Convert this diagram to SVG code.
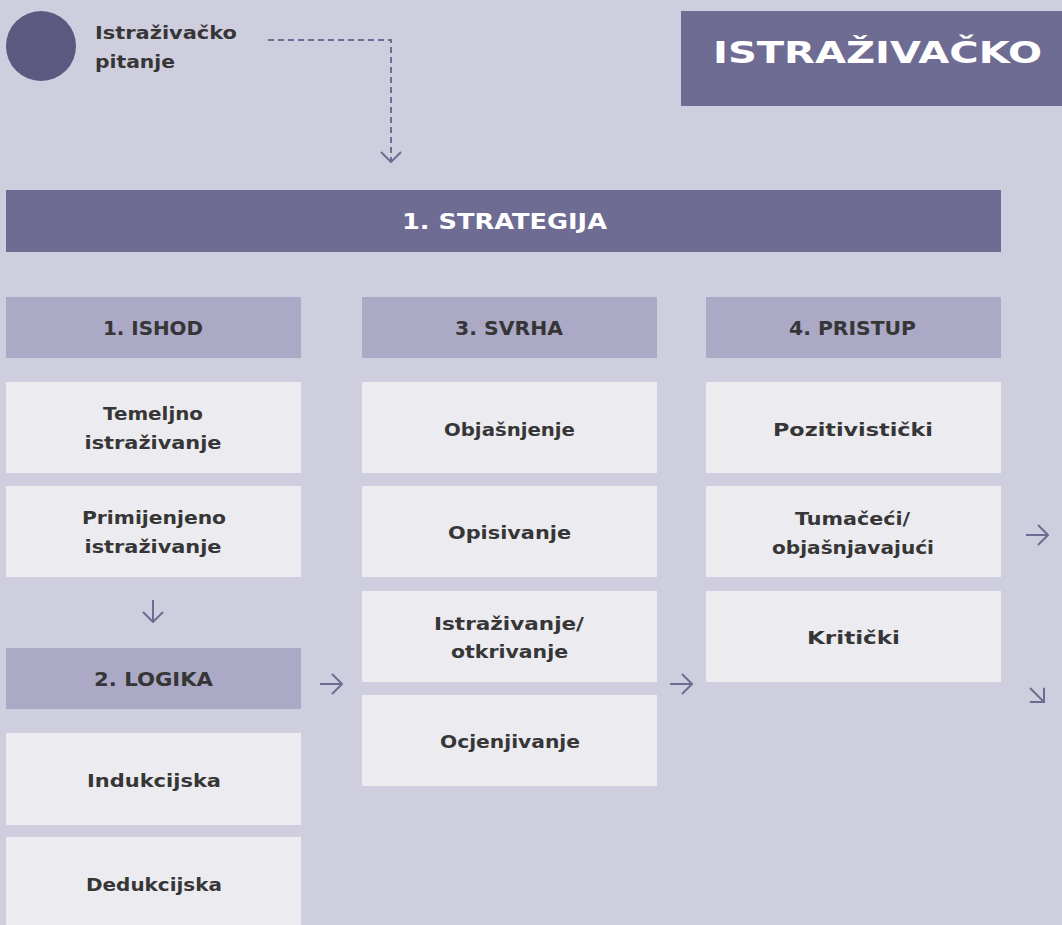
<svg xmlns="http://www.w3.org/2000/svg" width="1062" height="925" viewBox="0 0 1062 925">
<style>
.bg{fill:#cfcedf}
.dark{fill:#6f6c93}
.hdr{fill:#aba9c6}
.box{fill:#ebebf0}
text{font-family:"DejaVu Sans","Liberation Sans",sans-serif;font-weight:bold;text-anchor:middle}
.t{font-size:18px;fill:#363636}
.h{font-size:19px;fill:#363636}
.w{fill:#ffffff}
.conn{fill:none;stroke:#6f6c93;stroke-width:2}
</style>
<defs>
<marker id="chev" viewBox="0 0 12 22" refX="11" refY="11" markerWidth="12" markerHeight="22" markerUnits="userSpaceOnUse" orient="auto">
<path d="M1,1 L11,11 L1,21" fill="none" stroke="#6f6c93" stroke-width="2"/>
</marker>
</defs>
<rect class="bg" x="0" y="0" width="1062" height="925"/>

<g id="question">
<circle cx="41" cy="46" r="35" fill="#5c5880"/>
<text class="t" x="95" y="39" style="text-anchor:start" textLength="142" lengthAdjust="spacingAndGlyphs">Istraživačko</text>
<text class="t" x="95" y="68" style="text-anchor:start" textLength="80" lengthAdjust="spacingAndGlyphs">pitanje</text>
</g>

<g id="title">
<rect class="dark" x="681" y="11" width="381" height="95"/>
<text class="w" x="877.5" y="63" font-size="30" textLength="329" lengthAdjust="spacingAndGlyphs">ISTRAŽIVAČKO</text>
</g>

<g id="strategija">
<rect class="dark" x="6" y="190" width="995" height="62"/>
<text class="w" x="504.5" y="229" font-size="21" textLength="205" lengthAdjust="spacingAndGlyphs">1. STRATEGIJA</text>
</g>

<g id="ishod">
<rect class="hdr" x="6" y="297" width="295" height="61"/>
<text class="h" x="153" y="335" textLength="100" lengthAdjust="spacingAndGlyphs">1. ISHOD</text>
</g>
<g id="temeljno">
<rect class="box" x="6" y="382" width="295" height="91"/>
<text class="t" x="153" y="420" textLength="100" lengthAdjust="spacingAndGlyphs">Temeljno</text>
<text class="t" x="153" y="449" textLength="137" lengthAdjust="spacingAndGlyphs">istraživanje</text>
</g>
<g id="primijenjeno">
<rect class="box" x="6" y="486" width="295" height="91"/>
<text class="t" x="154" y="524" textLength="144" lengthAdjust="spacingAndGlyphs">Primijenjeno</text>
<text class="t" x="153" y="553" textLength="137" lengthAdjust="spacingAndGlyphs">istraživanje</text>
</g>
<g id="logika">
<rect class="hdr" x="6" y="648" width="295" height="61"/>
<text class="h" x="153.5" y="686" textLength="119" lengthAdjust="spacingAndGlyphs">2. LOGIKA</text>
</g>
<g id="indukcijska">
<rect class="box" x="6" y="733" width="295" height="92"/>
<text class="t" x="154" y="787" textLength="134" lengthAdjust="spacingAndGlyphs">Indukcijska</text>
</g>
<g id="dedukcijska">
<rect class="box" x="6" y="837" width="295" height="92"/>
<text class="t" x="154" y="891" textLength="136" lengthAdjust="spacingAndGlyphs">Dedukcijska</text>
</g>

<g id="svrha">
<rect class="hdr" x="362" y="297" width="295" height="61"/>
<text class="h" x="509" y="335" textLength="108" lengthAdjust="spacingAndGlyphs">3. SVRHA</text>
</g>
<g id="objasnjenje">
<rect class="box" x="362" y="382" width="295" height="91"/>
<text class="t" x="509.5" y="436" textLength="131" lengthAdjust="spacingAndGlyphs">Objašnjenje</text>
</g>
<g id="opisivanje">
<rect class="box" x="362" y="486" width="295" height="91"/>
<text class="t" x="509.5" y="539" textLength="123" lengthAdjust="spacingAndGlyphs">Opisivanje</text>
</g>
<g id="istrazivanje">
<rect class="box" x="362" y="591" width="295" height="91"/>
<text class="t" x="509" y="630" textLength="150" lengthAdjust="spacingAndGlyphs">Istraživanje/</text>
<text class="t" x="509.5" y="658" textLength="117" lengthAdjust="spacingAndGlyphs">otkrivanje</text>
</g>
<g id="ocjenjivanje">
<rect class="box" x="362" y="695" width="295" height="91"/>
<text class="t" x="510" y="748" textLength="140" lengthAdjust="spacingAndGlyphs">Ocjenjivanje</text>
</g>

<g id="pristup">
<rect class="hdr" x="706" y="297" width="295" height="61"/>
<text class="h" x="852.5" y="335" textLength="127" lengthAdjust="spacingAndGlyphs">4. PRISTUP</text>
</g>
<g id="pozitivisticki">
<rect class="box" x="706" y="382" width="295" height="91"/>
<text class="t" x="853" y="436" textLength="160" lengthAdjust="spacingAndGlyphs">Pozitivistički</text>
</g>
<g id="tumaceci">
<rect class="box" x="706" y="486" width="295" height="91"/>
<text class="t" x="852.5" y="525" textLength="115" lengthAdjust="spacingAndGlyphs">Tumačeći/</text>
<text class="t" x="853" y="554" textLength="162" lengthAdjust="spacingAndGlyphs">objašnjavajući</text>
</g>
<g id="kriticki">
<rect class="box" x="706" y="591" width="295" height="91"/>
<text class="t" x="853.5" y="644" textLength="93" lengthAdjust="spacingAndGlyphs">Kritički</text>
</g>

<g id="connectors">
<path class="conn" d="M268,40 H391 V162" stroke-dasharray="6,4" marker-end="url(#chev)"/>
<path class="conn" d="M153,600 V622" marker-end="url(#chev)"/>
<path class="conn" d="M320,684 H342" marker-end="url(#chev)"/>
<path class="conn" d="M670,684 H692" marker-end="url(#chev)"/>
<path class="conn" d="M1026,535 H1048" marker-end="url(#chev)"/>
<path class="conn" d="M1030,688 L1044,702" marker-end="url(#chev)"/>
</g>
</svg>
